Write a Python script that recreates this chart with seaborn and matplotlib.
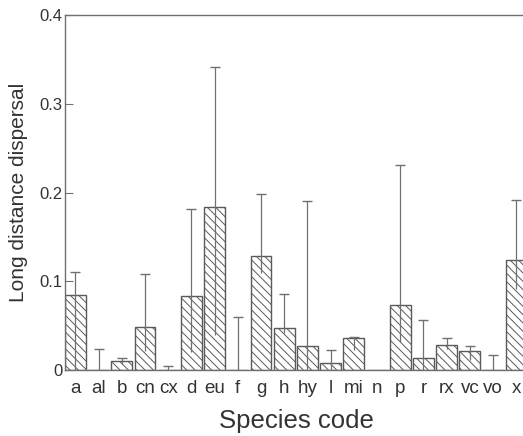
import numpy as np
import pandas as pd
import matplotlib
matplotlib.use("Agg")
import matplotlib.pyplot as plt
import seaborn as sns

# ------------------------------------------------------------
# Data
# ------------------------------------------------------------
species = ["a", "al", "b", "cn", "cx", "d", "eu", "f", "g", "h",
           "hy", "l", "mi", "n", "p", "r", "rx", "vc", "vo", "x"]
dispersal = [0.085, 0.0, 0.010, 0.049, 0.0, 0.083, 0.184, 0.0, 0.129, 0.047,
             0.027, 0.008, 0.036, 0.0, 0.073, 0.014, 0.028, 0.021, 0.0, 0.124]
upper_ci = [0.111, 0.024, 0.013, 0.108, 0.004, 0.181, 0.342, 0.060, 0.198, 0.086,
            0.190, 0.023, 0.037, np.nan, 0.231, 0.056, 0.036, 0.027, 0.017, 0.192]
lower_ci = [0.0, 0.0, 0.007, 0.021, 0.0, 0.020, 0.039, 0.0, 0.109, 0.042,
            0.0, 0.0, 0.023, np.nan, 0.031, 0.0, 0.024, 0.011, 0.0, 0.091]

df = pd.DataFrame({"species": species, "dispersal": dispersal})

# ------------------------------------------------------------
# Style
# ------------------------------------------------------------
sns.set_style("white")
plt.rcParams["font.family"] = ["Liberation Sans", "DejaVu Sans"]
plt.rcParams["hatch.linewidth"] = 0.7
plt.rcParams["hatch.color"] = "#606060"

line_col = "#707070"
text_col = "#333333"

fig = plt.figure(figsize=(5.23, 4.36), dpi=100)
ax = fig.add_axes([0.1243, 0.1514, 0.885, 0.814])

sns.barplot(data=df, x="species", y="dispersal", color="white",
            edgecolor="#5a5a5a", linewidth=1.0, width=0.9,
            hatch="\\\\\\\\", errorbar=None, saturation=1, ax=ax)

# error bars: line from lower to upper, cap only on top
x = np.arange(len(species))
ax.vlines(x, lower_ci, upper_ci, color=line_col, linewidth=0.9, zorder=3)
ax.scatter(x, upper_ci, marker="_", s=60, color=line_col, linewidths=1.0, zorder=3)

ax.set_xlim(-0.45, 19.5)
ax.set_ylim(0, 0.4)
ax.set_yticks([0, 0.1, 0.2, 0.3, 0.4])
ax.set_yticklabels(["0", "0.1", "0.2", "0.3", "0.4"])

ax.tick_params(axis="y", direction="in", length=6, width=0.8, color=line_col,
               pad=2, labelsize=12, labelcolor=text_col, left=True)
ax.tick_params(axis="x", length=0, pad=7, labelsize=13.5, labelcolor=text_col)

ax.set_xlabel("Species code", fontsize=18.5, color=text_col, labelpad=9)
ax.set_ylabel("Long distance dispersal", fontsize=15, color=text_col, labelpad=8)

for side in ["left", "top", "bottom"]:
    ax.spines[side].set_color(line_col)
    ax.spines[side].set_linewidth(1.0)
ax.spines["right"].set_visible(False)

fig.savefig("out.png", dpi=100)
